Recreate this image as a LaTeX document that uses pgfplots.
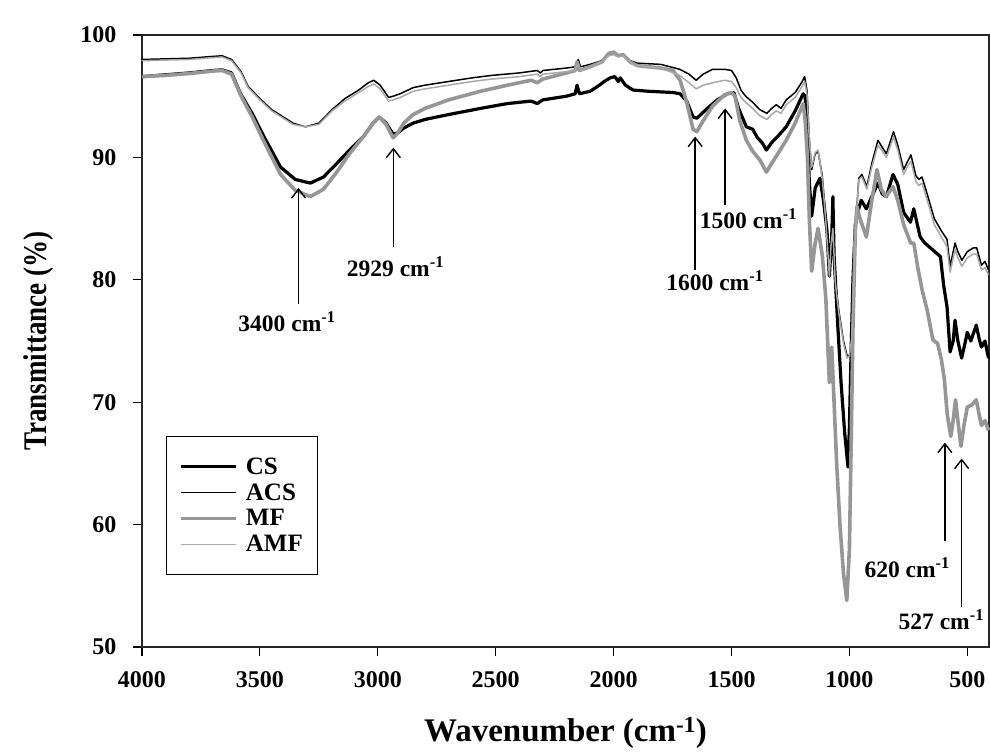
\documentclass[border=0pt]{standalone}
\usepackage{fontspec}
\setmainfont{Liberation Serif}
\usepackage{graphicx}
\usepackage{pgfplots}
\pgfplotsset{compat=1.18}
\usetikzlibrary{arrows.meta}

\definecolor{mfgray}{RGB}{150,150,150}
\definecolor{amfgray}{RGB}{168,168,168}

\begin{document}
\begin{tikzpicture}
\path[use as bounding box] (-142pt,-106pt) rectangle (848pt,647pt);
\begin{axis}[
    at={(0pt,0pt)}, anchor=south west,
    scale only axis,
    width=847pt, height=612pt,
    x dir=reverse,
    xmin=408, xmax=4000,
    ymin=50, ymax=100,
    xtick={500,1000,...,4000},
    ytick={50,60,...,100},
    tick align=outside,
    tick pos=left,
    major tick length=9pt,
    every tick/.style={black, line width=1.2pt},
    axis line style={black!85, line width=1.3pt},
    /pgf/number format/assume math mode=true,
    /pgf/number format/1000 sep={},
    tick label style={font=\fontsize{24}{28}\selectfont\bfseries},
    xticklabel style={yshift=-12pt},
    yticklabel style={xshift=-13pt},
    xlabel={Wavenumber (cm\textsuperscript{-1})},
    ylabel={\scalebox{0.82}[1]{Transmittance (\%)}},
    every axis x label/.style={at={(axis description cs:0.5,-0.1405)}, anchor=center,
        font=\fontsize{33}{38}\selectfont\bfseries},
    every axis y label/.style={at={(axis description cs:-0.1216,0.5)}, rotate=90, anchor=center,
        font=\fontsize{33}{38}\selectfont\bfseries},
    clip=false,
    legend style={at={(0.028,0.345)}, anchor=north west, draw=black, line width=1.2pt,
        font=\fontsize{25}{29}\selectfont\bfseries, inner xsep=13pt, inner ysep=19pt,
        row sep=4pt, /tikz/every odd column/.append style={column sep=6pt}},
    legend image code/.code={\draw[#1] (0pt,0pt) -- (55pt,0pt);},
    legend cell align=left,
]
% CS
\addplot[black, line width=3.2pt, line join=round] coordinates {
(4000,96.6) (3900,96.75) (3800,96.9) (3700,97.1) (3660,97.15) (3620,96.9) (3582,95.2)
(3530,93.5) (3483,91.7) (3412,89.2) (3350,88.2) (3286,87.9) (3230,88.4) (3174,89.5)
(3120,90.6) (3061,91.7) (3020,92.8) (2994,93.3) (2965,92.8) (2935,91.9) (2915,92.0)
(2890,92.4) (2850,92.8) (2800,93.1) (2700,93.5) (2565,94.0) (2450,94.4) (2350,94.6)
(2324,94.4) (2300,94.7) (2200,95.0) (2163,95.2) (2155,95.9) (2145,95.2) (2100,95.4)
(2060,95.9) (2040,96.2) (2014,96.5) (1995,96.6) (1980,96.2) (1972,96.5) (1950,95.9)
(1917,95.5) (1850,95.4) (1748,95.3) (1718,95.2) (1690,94.6) (1663,93.3) (1647,93.2)
(1630,93.5) (1603,94.0) (1560,94.7) (1518,95.2) (1490,95.3) (1470,94.0) (1437,92.5)
(1410,92.3) (1390,91.6) (1370,91.2) (1352,90.6) (1330,91.2) (1300,91.8) (1268,92.5)
(1230,93.8) (1196,95.2) (1188,95.0) (1180,93.0) (1170,88.0) (1160,85.2) (1145,87.5)
(1125,88.3) (1110,86.5) (1095,84.0) (1085,80.3) (1075,83.5) (1070,86.8) (1065,82.0)
(1050,76.5) (1035,71.5) (1020,67.5) (1006,64.7) (1000,68.0) (993,74.0) (985,80.0)
(975,84.5) (965,85.5) (950,86.5) (928,85.8) (905,86.8) (879,87.9) (860,87.0) (843,86.8)
(815,88.6) (795,87.8) (770,85.5) (741,84.7) (727,85.8) (700,83.5) (680,83.0) (650,82.5)
(614,81.9) (600,79.5) (586,77.8) (573,74.1) (560,75.0) (552,76.7) (540,75.0) (524,73.6)
(510,74.8) (500,75.7) (485,75.0) (462,76.3) (450,75.2) (440,74.5) (425,75.0) (410,73.6)
};
\addlegendentry{CS}
% ACS
\addplot[black, line width=1.5pt, line join=round] coordinates {
(4000,98.0) (3900,98.05) (3800,98.1) (3700,98.25) (3660,98.3) (3620,98.0) (3580,97.0)
(3550,95.8) (3500,94.8) (3450,93.9) (3417,93.5) (3360,92.8) (3307,92.5) (3250,92.8)
(3194,93.9) (3140,94.8) (3081,95.5) (3040,96.1) (3017,96.3) (2990,95.9) (2954,94.9)
(2935,95.0) (2905,95.2) (2850,95.7) (2800,95.9) (2700,96.2) (2600,96.5) (2517,96.7)
(2400,96.9) (2324,97.1) (2310,96.9) (2300,97.1) (2200,97.3) (2163,97.4) (2150,98.0)
(2140,97.4) (2100,97.6) (2050,97.9) (2020,98.4) (2000,98.5) (1980,98.3) (1960,98.4)
(1930,97.9) (1900,97.7) (1800,97.6) (1720,97.2) (1680,96.8) (1650,96.3) (1620,96.8)
(1580,97.2) (1530,97.2) (1500,97.1) (1480,96.5) (1460,95.5) (1440,95.0) (1410,94.5)
(1380,93.9) (1350,93.6) (1330,94.0) (1310,94.3) (1290,94.0) (1268,94.7) (1230,95.3)
(1200,96.2) (1190,96.6) (1180,95.5) (1170,91.5) (1160,89.0) (1145,90.3) (1133,90.5)
(1115,88.5) (1100,85.0) (1085,80.5) (1078,83.0) (1070,84.5) (1060,80.0) (1045,77.5)
(1025,75.0) (1010,73.8) (1000,73.8) (990,75.0) (980,80.0) (970,85.5) (960,88.3)
(947,88.6) (926,87.6) (905,89.5) (879,91.4) (860,90.8) (843,90.3) (813,92.1) (795,91.0)
(770,89.0) (755,89.6) (739,90.2) (718,88.5) (705,88.2) (692,88.4) (670,87.0) (640,85.0)
(610,84.0) (586,83.3) (573,81.1) (552,83.0) (540,82.3) (523,81.6) (500,82.3) (475,82.6)
(460,82.6) (440,81.2) (425,81.5) (410,80.8)
};
\addlegendentry{ACS}
% MF
\addplot[mfgray, line width=3.6pt, line join=round] coordinates {
(4000,96.6) (3900,96.7) (3800,96.85) (3700,97.05) (3660,97.1) (3620,96.8) (3582,95.1)
(3530,93.2) (3483,91.3) (3412,88.6) (3350,87.3) (3286,86.8) (3230,87.4) (3174,88.8)
(3120,90.3) (3061,91.7) (3020,92.8) (2994,93.3) (2965,92.7) (2935,91.6) (2915,92.0)
(2890,92.8) (2850,93.5) (2800,94.0) (2700,94.7) (2565,95.4) (2450,95.9) (2350,96.3)
(2324,96.1) (2300,96.4) (2200,96.9) (2163,97.1) (2155,97.8) (2145,97.1) (2100,97.4)
(2050,97.8) (2020,98.5) (2000,98.6) (1980,98.3) (1960,98.4) (1930,97.8) (1900,97.5)
(1800,97.3) (1748,97.1) (1718,96.3) (1690,94.5) (1663,92.3) (1647,92.1) (1620,93.0)
(1580,94.2) (1530,95.1) (1500,95.3) (1485,95.0) (1465,93.0) (1437,91.4) (1410,90.5)
(1380,89.8) (1352,88.8) (1330,89.5) (1300,90.4) (1268,91.4) (1230,92.8) (1196,94.4)
(1188,93.1) (1178,90.0) (1170,85.0) (1160,80.7) (1145,83.0) (1133,84.2) (1115,82.0)
(1100,78.5) (1085,71.6) (1075,74.5) (1065,70.0) (1054,65.0) (1040,60.0) (1025,56.0)
(1011,53.8) (1000,58.0) (993,66.0) (985,76.0) (975,84.0) (968,86.0) (955,85.0)
(928,83.5) (905,86.5) (883,89.0) (865,87.4) (845,86.8) (815,87.6) (795,86.5) (770,84.5)
(740,83.0) (727,83.0) (710,81.0) (692,79.2) (670,77.5) (646,75.1) (626,74.8) (610,73.5)
(597,71.8) (585,69.0) (570,67.2) (560,68.5) (550,70.2) (540,68.5) (527,66.4) (515,68.0)
(500,69.6) (480,69.8) (462,70.2) (450,69.0) (440,68.1) (425,68.5) (410,67.7)
};
\addlegendentry{MF}
% AMF
\addplot[amfgray, line width=1.5pt, line join=round] coordinates {
(4000,97.9) (3900,97.95) (3800,98.0) (3700,98.15) (3660,98.2) (3620,97.9) (3580,96.9)
(3550,95.7) (3500,94.7) (3450,93.8) (3417,93.4) (3360,92.7) (3307,92.5) (3250,92.7)
(3194,93.8) (3140,94.6) (3081,95.3) (3040,95.8) (3017,96.0) (2990,95.6) (2954,94.6)
(2935,94.7) (2905,94.9) (2850,95.4) (2800,95.6) (2700,95.9) (2600,96.2) (2517,96.4)
(2400,96.6) (2324,96.8) (2310,96.6) (2300,96.8) (2200,97.0) (2163,97.1) (2150,97.7)
(2140,97.1) (2100,97.4) (2050,97.8) (2020,98.3) (2000,98.4) (1980,98.2) (1960,98.3)
(1930,97.7) (1900,97.5) (1800,97.3) (1720,96.7) (1680,96.1) (1650,95.6) (1620,95.9)
(1580,96.1) (1530,96.3) (1500,96.2) (1480,95.7) (1460,94.9) (1440,94.5) (1410,94.0)
(1380,93.4) (1350,93.1) (1330,93.5) (1310,93.8) (1290,93.6) (1268,94.3) (1230,94.9)
(1200,95.8) (1190,96.2) (1180,95.2) (1170,91.5) (1160,89.2) (1145,90.4) (1133,90.6)
(1115,88.3) (1100,84.8) (1085,80.3) (1078,82.8) (1070,84.2) (1060,79.8) (1045,77.3)
(1025,74.8) (1010,73.6) (1000,73.8) (990,75.2) (980,80.2) (970,85.5) (960,88.2)
(947,88.4) (926,87.4) (905,89.2) (879,91.0) (860,90.5) (843,90.0) (813,91.7) (795,90.6)
(770,88.6) (755,89.2) (739,89.7) (718,88.0) (705,87.7) (692,87.9) (670,86.5) (640,84.5)
(610,83.5) (586,82.7) (573,80.6) (552,82.5) (540,81.8) (523,81.1) (500,81.8) (475,82.1)
(460,82.1) (440,80.8) (425,81.0) (410,80.4)
};
\addlegendentry{AMF}

% band annotations
\begin{scope}[line width=1.4pt, -{Straight Barb[length=9pt, width=14pt, line width=1.4pt]}]
\draw (axis cs:3336,78.0) -- (axis cs:3336,87.5);
\draw (axis cs:2934,82.7) -- (axis cs:2934,90.8);
\draw (axis cs:1654,80.8) -- (axis cs:1654,91.7);
\draw (axis cs:1527,86.1) -- (axis cs:1527,94.0);
\draw (axis cs:595,58.7) -- (axis cs:595,66.7);
\draw (axis cs:524,53.3) -- (axis cs:524,65.4);
\end{scope}
\begin{scope}[every node/.style={font=\fontsize{23.5}{27}\selectfont\bfseries, inner sep=1pt}]
\node at (axis cs:3385,76.6) {3400 cm\textsuperscript{-1}};
\node at (axis cs:2925,81.1) {2929 cm\textsuperscript{-1}};
\node at (axis cs:1570,79.9) {1600 cm\textsuperscript{-1}};
\node at (axis cs:1428,85.0) {1500 cm\textsuperscript{-1}};
\node at (axis cs:755,56.5) {620 cm\textsuperscript{-1}};
\node at (axis cs:610,52.2) {527 cm\textsuperscript{-1}};
\end{scope}
\end{axis}
\end{tikzpicture}
\end{document}
